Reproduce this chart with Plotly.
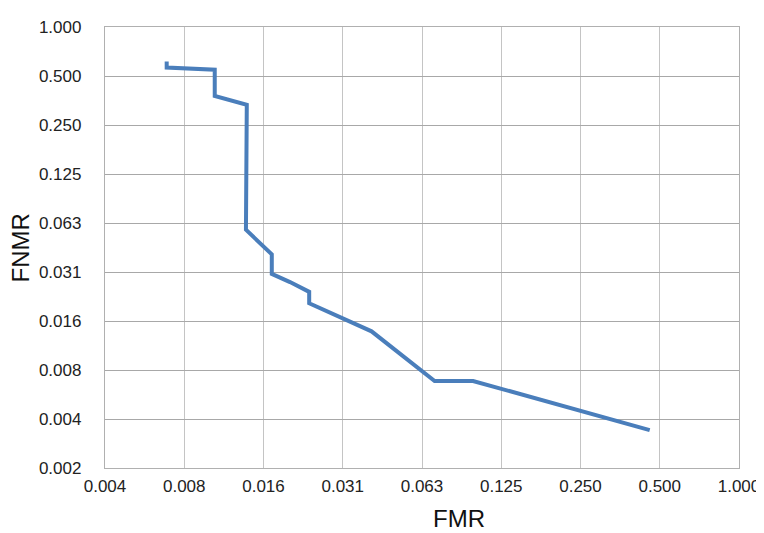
import plotly.graph_objects as go
import math

# Data (FMR vs FNMR, log2 axes)
fmr = [0.0067, 0.0067, 0.0102, 0.0102, 0.0135, 0.0134, 0.0168, 0.0168,
       0.0197, 0.0233, 0.0233, 0.0402, 0.0698, 0.0977, 0.458]
fnmr = [0.613, 0.564, 0.546, 0.377, 0.333, 0.0568, 0.0401, 0.0304,
        0.0271, 0.0236, 0.0201, 0.0135, 0.00669, 0.00669, 0.00334]

x_tickvals = [2 ** -k for k in range(8, -1, -1)]
x_ticktext = ["0.004", "0.008", "0.016", "0.031", "0.063", "0.125", "0.250", "0.500", "1.000"]
y_tickvals = [2 ** -k for k in range(9, -1, -1)]
y_ticktext = ["0.002", "0.004", "0.008", "0.016", "0.031", "0.063", "0.125", "0.250", "0.500", "1.000"]

fig = go.Figure()
fig.add_trace(go.Scatter(
    x=fmr, y=fnmr, mode="lines",
    line=dict(color="#4a7ebb", width=4),
    showlegend=False,
))

tick_font = dict(family="Liberation Sans, Arial, sans-serif", size=17, color="#222222")

fig.update_layout(
    width=764, height=533,
    margin=dict(l=97, r=33, t=10, b=73),
    paper_bgcolor="white", plot_bgcolor="white",
    xaxis=dict(
        type="log",
        range=[math.log10(x_tickvals[0]), math.log10(x_tickvals[-1])],
        tickvals=x_tickvals, ticktext=x_ticktext,
        showgrid=True, gridcolor="#c4c4c4", gridwidth=1.3,
        showline=True, linecolor="#b0b0b0", linewidth=1.3, mirror=True,
        ticks="", tickfont=tick_font, ticklabelstandoff=2,
        zeroline=False,
    ),
    yaxis=dict(
        type="log",
        range=[math.log10(y_tickvals[0]), math.log10(y_tickvals[-1])],
        tickvals=y_tickvals, ticktext=y_ticktext,
        showgrid=True, gridcolor="#a8a8a8", gridwidth=1.3,
        showline=True, linecolor="#b0b0b0", linewidth=1.3, mirror=True,
        ticks="", tickfont=tick_font, ticklabelstandoff=19,
        zeroline=False,
    ),
    annotations=[
        dict(text="FMR", xref="paper", yref="paper", x=(459 - 105) / 634, y=-(520 - 468) / 450,
             xanchor="center", yanchor="middle", showarrow=False,
             font=dict(family="Liberation Sans, Arial, sans-serif", size=24, color="#111111")),
        dict(text="FNMR", xref="paper", yref="paper", x=-(105 - 20) / 634, y=(468 - 244) / 450,
             xanchor="center", yanchor="middle", showarrow=False, textangle=-90,
             font=dict(family="Liberation Sans, Arial, sans-serif", size=24, color="#111111")),
    ],
)

fig.write_html("out.html")
